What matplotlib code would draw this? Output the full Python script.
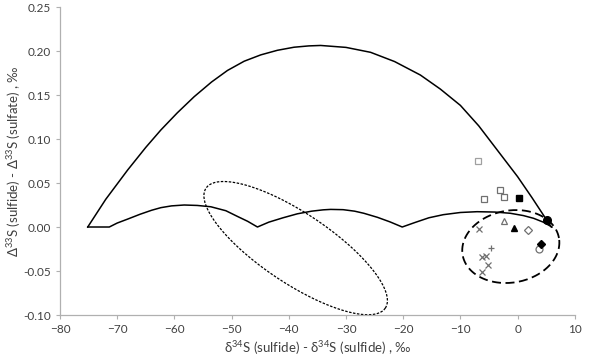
import numpy as np
import matplotlib
matplotlib.use('Agg')
import matplotlib.pyplot as plt

plt.rcParams['font.family'] = ['Lato', 'DejaVu Sans']
plt.rcParams['mathtext.fontset'] = 'custom'
plt.rcParams['mathtext.rm'] = 'Lato'

# upper mixing curve
arc_x = [-75.15, -72.0, -68.17, -65.0, -62.36, -59.5, -56.54, -53.5, -50.72,
         -47.8, -44.9, -42.0, -39.08, -36.5, -34.43, -30.0, -25.7, -21.5,
         -17.0, -13.5, -10.0, -6.8, -3.6, 0.0, 2.5, 4.5, 5.9]
arc_y = [0.000, 0.0315, 0.0648, 0.0905, 0.1103, 0.1297, 0.1481, 0.1648, 0.1779,
         0.1884, 0.1956, 0.2008, 0.2043, 0.2058, 0.2063, 0.2041, 0.1985, 0.188,
         0.1727, 0.1567, 0.1382, 0.115, 0.0878, 0.0572, 0.0335, 0.0137, 0.000]

# lower scalloped curve
low_x = [-75.15, -71.38, -70.0, -68.17, -66.0, -64.0, -62.36, -60.5, -58.29,
         -56.0, -53.63, -51.0, -48.97, -47.2, -45.48,
         -43.5, -41.0, -38.5, -36.0, -34.0, -32.69, -30.5, -28.5, -26.88,
         -24.5, -22.3, -20.17,
         -18.0, -15.5, -13.0, -10.0, -7.09, -4.0, -1.27, 1.0, 2.79, 4.5, 6.0]
low_y = [0.000, 0.000, 0.0045, 0.009, 0.0145, 0.019, 0.022, 0.024, 0.025,
         0.0245, 0.023, 0.0185, 0.012, 0.0065, 0.000,
         0.0055, 0.0105, 0.0150, 0.018, 0.0195, 0.020, 0.0197, 0.018, 0.0156,
         0.011, 0.0058, 0.000,
         0.005, 0.0105, 0.014, 0.0165, 0.0174, 0.017, 0.0156, 0.013, 0.0099,
         0.0055, 0.000]

# dotted ellipse: centre and two conjugate half-axes (data units)
dot_c = (-38.8, -0.024)
dot_e1 = (15.68, -0.0681)
dot_e2 = (-3.39, -0.0331)

# dashed ellipse
dash_c = (-1.19, -0.0222)
dash_e1 = (8.42, 0.0097)
dash_e2 = (-1.09, 0.0403)

# samples
open_sq_x = [-3.14, -2.44, -5.81]
open_sq_y = [0.042, 0.0337, 0.0318]
gray_sq_x = [-6.9]
gray_sq_y = [0.075]
fill_sq_x = [0.30]
fill_sq_y = [0.0326]
fill_circ_x = [5.13]
fill_circ_y = [0.008]
open_circ_x = [3.67]
open_circ_y = [-0.025]
open_tri_x = [-2.32]
open_tri_y = [0.0068]
fill_tri_x = [-0.58]
fill_tri_y = [-0.0008]
open_dia_x = [1.81]
open_dia_y = [-0.0038]
fill_dia_x = [4.14]
fill_dia_y = [-0.0197]
cross_x = [-6.68, -6.21, -5.46, -5.24, -6.21]
cross_y = [-0.0023, -0.0337, -0.0326, -0.0432, -0.0508]
plus_x = [-4.64]
plus_y = [-0.0242]


def ellipse(c, e1, e2):
    t = np.linspace(0, 2 * np.pi, 200)
    x = c[0] + e1[0] * np.cos(t) + e2[0] * np.sin(t)
    y = c[1] + e1[1] * np.cos(t) + e2[1] * np.sin(t)
    return x, y


fig = plt.figure(figsize=(6, 3.61), dpi=100)
ax = fig.add_axes([0.1, 0.1274, 0.858, 0.8532])

ax.plot(arc_x, arc_y, color='black', lw=1.1)
ax.plot(low_x, low_y, color='black', lw=1.1)

ex, ey = ellipse(dot_c, dot_e1, dot_e2)
ax.plot(ex, ey, color='black', lw=0.9, linestyle=(0, (2, 1.2)))
ex, ey = ellipse(dash_c, dash_e1, dash_e2)
ax.plot(ex, ey, color='black', lw=1.3, linestyle=(0, (5, 2.5)))

gray = '#707070'
ms = 5
ax.plot(gray_sq_x, gray_sq_y, 's', ms=ms, mfc='white', mec='#a0a0a0', mew=0.9)
ax.plot(open_sq_x, open_sq_y, 's', ms=ms, mfc='white', mec=gray, mew=0.9)
ax.plot(fill_sq_x, fill_sq_y, 's', ms=ms, color='black')
ax.plot(fill_circ_x, fill_circ_y, 'o', ms=ms + 0.5, color='black')
ax.plot(open_circ_x, open_circ_y, 'o', ms=ms, mfc='white', mec=gray, mew=0.9)
ax.plot(open_tri_x, open_tri_y, '^', ms=ms, mfc='white', mec=gray, mew=0.9)
ax.plot(fill_tri_x, fill_tri_y, '^', ms=ms, color='black')
ax.plot(open_dia_x, open_dia_y, 'D', ms=ms - 1, mfc='white', mec=gray, mew=0.9)
ax.plot(fill_dia_x, fill_dia_y, 'D', ms=ms - 1, color='black')
ax.plot(cross_x, cross_y, 'x', ms=ms, mec=gray, mew=0.9)
ax.plot(plus_x, plus_y, '+', ms=ms, mec=gray, mew=0.9)

ax.set_xlim(-80, 10)
ax.set_ylim(-0.10, 0.25)
ax.set_xticks(np.arange(-80, 11, 10))
ax.set_yticks(np.arange(-0.10, 0.251, 0.05))
ax.yaxis.set_major_formatter(matplotlib.ticker.FormatStrFormatter('%.2f'))

for s in ['top', 'right']:
    ax.spines[s].set_visible(False)
for s in ['left', 'bottom']:
    ax.spines[s].set_color('#b0b0b0')
    ax.spines[s].set_linewidth(0.9)
ax.tick_params(colors='#b0b0b0', labelcolor='#404040', labelsize=8.5,
               length=3, width=0.8)

ax.set_xlabel('δ$^{34}$S (sulfide) - δ$^{34}$S (sulfide) , ‰',
              fontsize=9.5, color='#404040', labelpad=3)
ax.set_ylabel('Δ$^{33}$S (sulfide) - Δ$^{33}$S (sulfate) , ‰',
              fontsize=9.5, color='#404040')
ax.yaxis.set_label_coords(-0.072, 0.5)

plt.savefig('out.png', dpi=100)
